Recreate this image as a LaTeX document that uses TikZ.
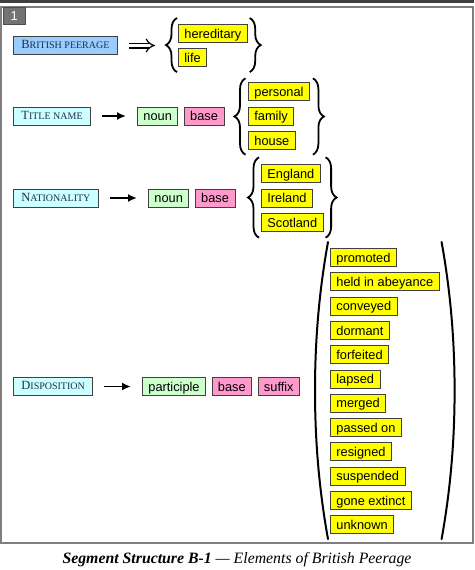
\documentclass[tikz,border=0pt]{standalone}
\usepackage{fontspec}
\setmainfont{Liberation Serif}
\setsansfont{Liberation Sans}
\usetikzlibrary{arrows.meta, positioning, calc, decorations.pathreplacing}

\definecolor{peerblue}{HTML}{99CCFF}
\definecolor{catcyan}{HTML}{CCFFFF}
\definecolor{stemgreen}{HTML}{CCFFCC}
\definecolor{affixpink}{HTML}{FF99CC}
\definecolor{optyellow}{HTML}{FFFF00}
\definecolor{catink}{HTML}{1F2F4F}
\definecolor{framegray}{HTML}{7F7F7F}

% fake small caps: big first letter, smaller capitals after it
\newcommand{\capsc}[2]{{\fontsize{12.5}{14}\selectfont #1}{\fontsize{10}{12}\selectfont #2}}

\begin{document}
\begin{tikzpicture}[
    x=1pt, y=-1pt,
    node distance=5.5pt,
    box/.style={rectangle, draw=black!75, line width=0.8pt, minimum height=18pt, inner xsep=6pt, inner ysep=0pt, text height=10.6pt, text depth=1.2pt, font=\sffamily\fontsize{12.8}{14}\selectfont},
    category/.style={box, fill=catcyan, inner xsep=8pt, text height=9.3pt, text depth=2.5pt, text=catink, font=\rmfamily},
    stem/.style={box, fill=stemgreen},
    affix/.style={box, fill=affixpink},
    choice/.style={box, fill=optyellow},
    arrow/.style={-{Latex[length=9pt, width=8pt]}, line width=1.7pt, shorten <=11pt, shorten >=11pt},
    implies/.style={-{Implies}, line width=1.2pt, double, double distance=3.6pt, shorten <=11pt, shorten >=8pt},
    lbrace/.style={decorate, decoration={brace, amplitude=11pt}, line width=1.8pt},
    paren/.style={line width=2pt, line cap=round}
]
    \useasboundingbox (0,0) rectangle (474,570);

    % frame and figure number
    \fill[black!75] (0,0) rectangle (474,2.5);
    \draw[framegray, line width=2pt] (1,7) rectangle (473,543);
    \node[draw=black!70, fill=black!55, text=white, font=\sffamily\fontsize{13}{14}\selectfont, minimum width=22pt, minimum height=17pt, inner sep=0pt, anchor=north west] (fignum) at (3,7) {1};

    % British peerage
    \node[category, fill=peerblue, anchor=west] (peerage) at (13,45.5) {\capsc{B}{RITISH PEERAGE}};
    \node[choice, anchor=north west] (hered) at (178,24) {hereditary};
    \node[choice, below=of hered.south west, anchor=north west] (life) {life};
    \draw[lbrace] ($(life.south west)+(-1,5)$) -- ($(hered.north west)+(-1,-6)$);
    \draw[lbrace] ($(hered.north east)+(2,-6)$) -- ($(hered.east |- life.south)+(2,5)$);
    \coordinate (peerfork) at ($(hered.west |- peerage.east)+(-15,0)$);
    \draw[implies] (peerage) -- (peerfork);

    % title name
    \node[category, anchor=west] (title) at (13,116) {\capsc{T}{ITLE NAME}};
    \node[stem, anchor=west] (tnoun) at (137,116) {noun};
    \node[affix, right=of tnoun] (tbase) {base};
    \node[choice, anchor=west] (family) at (248,116) {family};
    \node[choice, above=of family.north west, anchor=south west] (personal) {personal};
    \node[choice, below=of family.south west, anchor=north west] (house) {house};
    \draw[lbrace] ($(house.south west)+(-2.5,5)$) -- ($(personal.north west)+(-2.5,-4)$);
    \draw[lbrace] ($(personal.north east)+(3,-4)$) -- ($(personal.east |- house.south)+(3,5)$);
    \draw[arrow] (title) -- (tnoun);

    % nationality
    \node[category, anchor=west] (nation) at (13,198) {\capsc{N}{ATIONALITY}};
    \node[stem, anchor=west] (nnoun) at (148,198) {noun};
    \node[affix, right=of nnoun] (nbase) {base};
    \node[choice, anchor=west] (ireland) at (261,198) {Ireland};
    \node[choice, above=of ireland.north west, anchor=south west] (england) {England};
    \node[choice, below=of ireland.south west, anchor=north west] (scotland) {Scotland};
    \draw[lbrace] ($(scotland.south west)+(-2,6)$) -- ($(england.north west)+(-2,-7)$);
    \draw[lbrace] ($(scotland.east |- england.north)+(2,-7)$) -- ($(scotland.south east)+(2,6)$);
    \draw[arrow] (nation) -- (nnoun);

    % disposition
    \node[category, anchor=west] (dispo) at (13,386.5) {\capsc{D}{ISPOSITION}};
    \node[stem, anchor=west] (part) at (142,386.5) {participle};
    \node[affix, right=of part] (dbase) {base};
    \node[affix, right=of dbase] (suffix) {suffix};
    \draw[arrow] (dispo) -- (part);

    \node[choice, anchor=north west] (promoted) at (330,248) {promoted};
    \node[choice, below=of promoted.south west, anchor=north west] (abeyance) {held in abeyance};
    \node[choice, below=of abeyance.south west, anchor=north west] (conveyed) {conveyed};
    \node[choice, below=of conveyed.south west, anchor=north west] (dormant) {dormant};
    \node[choice, below=of dormant.south west, anchor=north west] (forfeited) {forfeited};
    \node[choice, below=of forfeited.south west, anchor=north west] (lapsed) {lapsed};
    \node[choice, below=of lapsed.south west, anchor=north west] (merged) {merged};
    \node[choice, below=of merged.south west, anchor=north west] (passed) {passed on};
    \node[choice, below=of passed.south west, anchor=north west] (resigned) {resigned};
    \node[choice, below=of resigned.south west, anchor=north west] (suspended) {suspended};
    \node[choice, below=of suspended.south west, anchor=north west] (extinct) {gone extinct};
    \node[choice, below=of extinct.south west, anchor=north west] (unknown) {unknown};

    \coordinate (lptop) at ($(promoted.north west)+(-2,-6)$);
    \coordinate (lpbot) at ($(unknown.south west)+(-2,5)$);
    \coordinate (lpmid) at ($(lptop)!0.5!(lpbot)+(-13,0)$);
    \coordinate (rptop) at ($(abeyance.east |- lptop)+(2,0)$);
    \coordinate (rpbot) at ($(abeyance.east |- lpbot)+(2,0)$);
    \coordinate (rpmid) at ($(rptop)!0.5!(rpbot)+(13,0)$);
    \draw[paren] (lptop) .. controls +(-9,50) and +(0,-50) .. (lpmid) .. controls +(0,50) and +(-9,-50) .. (lpbot);
    \draw[paren] (rptop) .. controls +(9,50) and +(0,-50) .. (rpmid) .. controls +(0,50) and +(9,-50) .. (rpbot);

    % caption
    \node[font=\fontsize{15.8}{18}\selectfont\itshape] (caption) at (237,560) {\textbf{Segment Structure B-1} — Elements of British Peerage};
\end{tikzpicture}
\end{document}
